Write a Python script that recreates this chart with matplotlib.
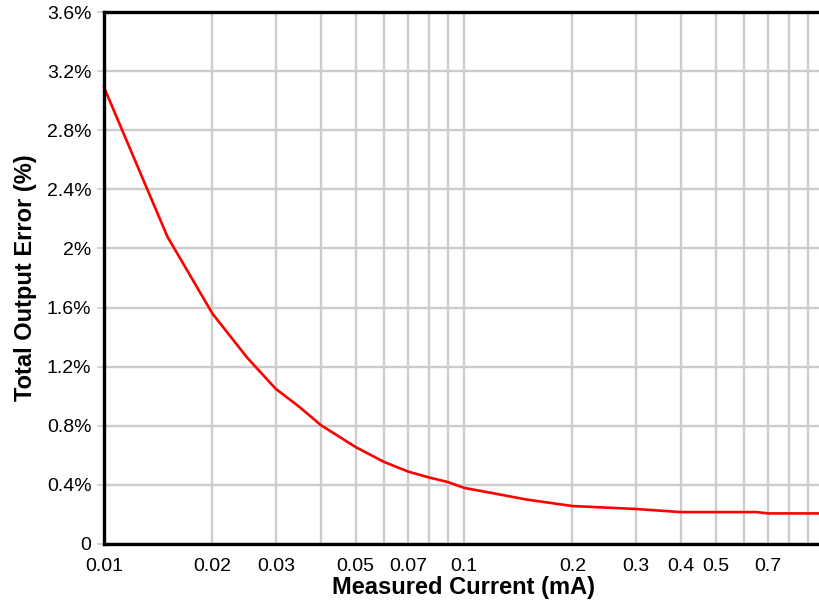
import matplotlib
matplotlib.use("Agg")
import matplotlib.pyplot as plt
from matplotlib.ticker import FixedLocator, NullFormatter

current_ma = [0.01, 0.015, 0.02, 0.025, 0.03, 0.035, 0.04, 0.05, 0.06, 0.07,
              0.08, 0.09, 0.1, 0.15, 0.2, 0.3, 0.4, 0.5, 0.65, 0.7, 1.0]
error_pct = [3.09, 2.08, 1.56, 1.26, 1.05, 0.925, 0.805, 0.656, 0.555, 0.49,
             0.45, 0.42, 0.38, 0.30, 0.257, 0.237, 0.216, 0.216, 0.216, 0.207, 0.207]

x_ticks = [0.01, 0.02, 0.03, 0.05, 0.07, 0.1, 0.2, 0.3, 0.4, 0.5, 0.7, 1]
x_tick_labels = ["0.01", "0.02", "0.03", "0.05", "0.07", "0.1", "0.2", "0.3", "0.4", "0.5", "0.7", "1"]
x_grid = [m * d for d in (0.01, 0.1) for m in range(1, 10)] + [1.0]
y_ticks = [0, 0.4, 0.8, 1.2, 1.6, 2.0, 2.4, 2.8, 3.2, 3.6]
y_tick_labels = ["0", "0.4%", "0.8%", "1.2%", "1.6%", "2%", "2.4%", "2.8%", "3.2%", "3.6%"]

plt.rcParams["font.family"] = ["Liberation Sans", "DejaVu Sans"]

W, H = 820, 604
fig = plt.figure(figsize=(W / 100, H / 100), dpi=100)
# axes runs a little past the right edge of the picture, as in the reference
ax = fig.add_axes([104 / W, (H - 544) / H, (824 - 104) / W, (544 - 12) / H])

ax.plot(current_ma, error_pct, color="#ff0000", lw=1.9, zorder=3, clip_on=False)

ax.set_xscale("log")
ax.set_xlim(0.01, 1)
ax.set_ylim(0, 3.6)

ax.xaxis.set_major_locator(FixedLocator(x_ticks))
ax.set_xticklabels(x_tick_labels)
ax.xaxis.set_minor_locator(FixedLocator([]))
ax.xaxis.set_minor_formatter(NullFormatter())
ax.set_yticks(y_ticks)
ax.set_yticklabels(y_tick_labels)

for g in x_grid:
    ax.axvline(g, color="#cccccc", lw=1.7, zorder=1)
for g in y_ticks:
    ax.axhline(g, color="#cccccc", lw=1.7, zorder=1)

ax.tick_params(axis="x", length=0, pad=10, labelsize=14)
ax.tick_params(axis="y", length=5, width=1.2, color="#cccccc", pad=4, labelsize=14)

for side in ("left", "bottom", "top", "right"):
    ax.spines[side].set_linewidth(2.4)
    ax.spines[side].set_color("black")
    ax.spines[side].set_zorder(4)

ax.set_xlabel("Measured Current (mA)", fontsize=17, fontweight="bold", labelpad=1)
ax.set_ylabel("Total Output Error (%)", fontsize=17, fontweight="bold", labelpad=7)

fig.savefig("out.png", dpi=100)
